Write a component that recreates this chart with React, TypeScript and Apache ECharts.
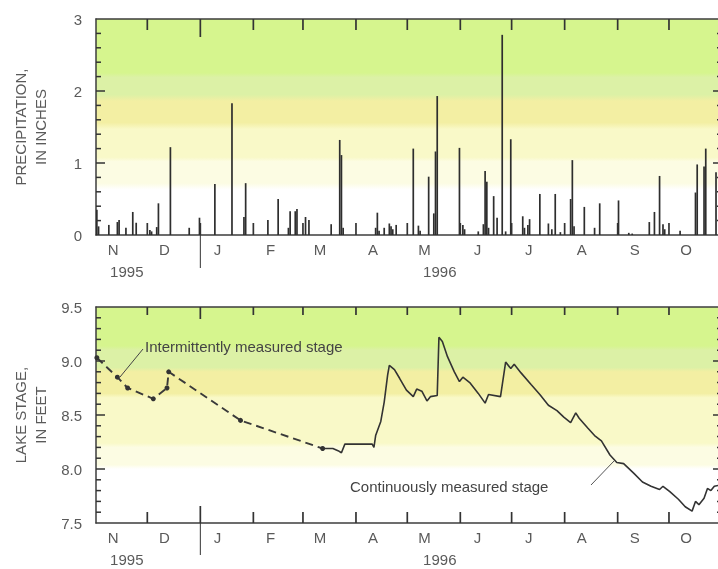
import React, { useEffect, useRef } from 'react';
import * as echarts from 'echarts';

// Day index 0 = 1 November 1995, axis runs to 1 November 1996 (366 days)
const monthStarts = [0, 30, 61, 92, 121, 152, 182, 213, 243, 274, 305, 335];
const monthLetters = ['N', 'D', 'J', 'F', 'M', 'A', 'M', 'J', 'J', 'A', 'S', 'O'];
const monthLabelOffset = 10;
const yearLabelDays = [18, 201];
const yearLabels = ['1995', '1996'];
const yearBreakDay = 61;
const axisEndDay = 366;

const precipDays = [
  0, 1, 7, 12, 13, 17, 21, 23, 31, 32, 35, 36, 43, 54, 60, 69, 79, 86, 87, 100,
  106, 112, 113, 116, 117, 122, 124, 137, 142, 143, 144, 163, 164, 165, 168, 171, 172, 173, 175, 185,
  188, 189, 194, 197, 198, 199, 212, 214, 215, 223, 226, 227, 228, 229, 232, 234, 237, 239, 242, 249,
  250, 252, 253, 259, 264, 266, 268, 271, 277, 278, 279, 285, 291, 294, 305, 311, 313, 323, 326, 329,
  331, 332, 341, 350, 351, 355, 356, 362,
];
const precipInches = [
  0.35, 0.12, 0.14, 0.18, 0.21, 0.1, 0.32, 0.17, 0.07, 0.05, 0.11, 0.44, 1.22, 0.1, 0.24, 0.71, 1.83, 0.25, 0.72, 0.21,
  0.5, 0.1, 0.33, 0.33, 0.36, 0.25, 0.21, 0.15, 1.32, 1.11, 0.1, 0.1, 0.31, 0.06, 0.1, 0.16, 0.12, 0.08, 0.14, 1.2,
  0.13, 0.06, 0.81, 0.3, 1.16, 1.93, 1.21, 0.14, 0.08, 0.05, 0.15, 0.89, 0.74, 0.1, 0.54, 0.24, 2.78, 0.05, 1.33, 0.26,
  0.1, 0.14, 0.22, 0.57, 0.16, 0.08, 0.57, 0.04, 0.5, 1.04, 0.12, 0.39, 0.1, 0.44, 0.48, 0.03, 0.02, 0.18, 0.32, 0.82,
  0.15, 0.08, 0.06, 0.59, 0.98, 0.95, 1.2, 0.87,
];

const measDays = [0, 12, 18, 33, 41, 42, 84, 132];
const measStage = [9.03, 8.85, 8.75, 8.65, 8.75, 8.9, 8.45, 8.19];

const contDays = [
  132, 138, 141, 143, 145, 161, 162, 163, 166, 168, 170, 171, 174, 177, 181, 185, 187, 190, 193, 195,
  199, 200, 202, 205, 209, 212, 214, 218, 223, 227, 229, 236, 239, 242, 244, 248, 254, 259, 264, 269,
  273, 277, 280, 282, 287, 291, 295, 300, 304, 308, 314, 319, 324, 329, 331, 335, 340, 344, 348, 350,
  352, 355, 357, 359, 361, 364,
];
const contStage = [
  8.19, 8.19, 8.17, 8.15, 8.23, 8.23, 8.2, 8.31, 8.44, 8.62, 8.87, 8.96, 8.92, 8.84, 8.73, 8.67, 8.74, 8.72, 8.63, 8.67,
  8.68, 9.22, 9.18, 9.04, 8.9, 8.81, 8.85, 8.8, 8.7, 8.61, 8.69, 8.67, 8.99, 8.93, 8.97, 8.89, 8.78, 8.69, 8.59, 8.54,
  8.48, 8.43, 8.52, 8.47, 8.38, 8.31, 8.26, 8.13, 8.06, 8.05, 7.96, 7.88, 7.84, 7.81, 7.84, 7.79, 7.72, 7.65, 7.61, 7.7,
  7.67, 7.73, 7.82, 7.8, 7.84, 7.85,
];

// y-axis scales: [min, max, major step, minor divisions]
const precipScale = [0, 3, 1, 5];
const stageScale = [7.5, 9.5, 0.5, 5];

const FONT = '"Liberation Sans", Arial, sans-serif';
const AXIS_COLOR = '#3c3c3c';
const TICK_COLOR = '#333333';
const LABEL_COLOR = '#5a5a5a';

const bandStops = (bands: [number, number, string][]) => {
  const stops: { offset: number; color: string }[] = [];
  bands.forEach(([a, b, c]) => {
    stops.push({ offset: a, color: c });
    stops.push({ offset: b, color: c });
  });
  return new echarts.graphic.LinearGradient(0, 0, 0, 1, stops);
};

const topBands: [number, number, string][] = [
  [0, 0.25, '#d6f58e'],
  [0.27, 0.35, '#dcf1a6'],
  [0.38, 0.48, '#f3efa3'],
  [0.51, 0.64, '#f9f9c8'],
  [0.66, 0.76, '#fcfce3'],
  [0.79, 1, '#ffffff'],
];
const bottomBands: [number, number, string][] = [
  [0, 0.18, '#d6f58e'],
  [0.2, 0.28, '#dcf1a6'],
  [0.3, 0.4, '#f3efa3'],
  [0.42, 0.63, '#f9f9c8'],
  [0.65, 0.73, '#fcfce3'],
  [0.75, 1, '#ffffff'],
];

function xAxisBase(gridIndex: number, position: 'top' | 'bottom') {
  return {
    type: 'value',
    gridIndex,
    position,
    min: 0,
    max: axisEndDay,
    splitLine: { show: false },
    axisLine: { show: false, onZero: false },
    axisTick: { show: false },
    axisLabel: { show: false },
  } as any;
}

// per panel: 0 bottom line + months, 1 top line, 2 year labels
function panelXAxes(gridIndex: number) {
  return [
    {
      ...xAxisBase(gridIndex, 'bottom'),
      axisLine: { show: true, onZero: false, lineStyle: { color: AXIS_COLOR, width: 1.5 } },
      axisLabel: {
        show: true,
        customValues: monthStarts.map((m) => m + monthLabelOffset),
        formatter: (v: number) => {
          const i = monthStarts.findIndex((m) => m + monthLabelOffset === Math.round(v));
          return i >= 0 ? monthLetters[i] : '';
        },
        margin: 7,
        color: LABEL_COLOR,
        fontSize: 15,
        fontFamily: FONT,
      },
    },
    {
      ...xAxisBase(gridIndex, 'top'),
      axisLine: { show: true, onZero: false, lineStyle: { color: AXIS_COLOR, width: 1.5 } },
    },
    {
      ...xAxisBase(gridIndex, 'bottom'),
      axisLabel: {
        show: true,
        customValues: yearLabelDays,
        formatter: (v: number) => {
          const i = yearLabelDays.indexOf(Math.round(v));
          return i >= 0 ? yearLabels[i] : '';
        },
        margin: 29,
        color: LABEL_COLOR,
        fontSize: 15,
        fontFamily: FONT,
      },
    },
  ];
}

function panelYAxis(gridIndex: number, scale: number[], name: string, decimals: number) {
  return {
    type: 'value',
    gridIndex,
    min: scale[0],
    max: scale[1],
    interval: scale[2],
    position: 'left',
    splitLine: { show: false },
    axisLine: { show: true, onZero: false, lineStyle: { color: AXIS_COLOR, width: 1.5 } },
    axisTick: { show: false },
    name,
    nameLocation: 'middle',
    nameRotate: 90,
    nameGap: 46,
    nameTextStyle: { color: LABEL_COLOR, fontSize: 15, fontFamily: FONT, lineHeight: 20 },
    axisLabel: {
      show: true,
      margin: 14,
      color: LABEL_COLOR,
      fontSize: 15,
      fontFamily: FONT,
      formatter: (v: number) => v.toFixed(decimals),
    },
  } as any;
}

const tickLine = (x1: number, y1: number, x2: number, y2: number, w: number) => ({
  type: 'line',
  shape: { x1, y1, x2, y2 },
  style: { stroke: TICK_COLOR, lineWidth: w },
});

// month ticks: lengths [top inside, bottom inside, bottom outside] for regular and year-break ticks
function monthTickSeries(xAxisIndex: number, yAxisIndex: number, yMin: number, normal: number[], brk: number[]) {
  return {
    type: 'custom',
    xAxisIndex,
    yAxisIndex,
    silent: true,
    clip: false,
    z: 6,
    data: monthStarts.slice(1).map((d) => [d, yMin]),
    renderItem: (params: any, api: any) => {
      const day = api.value(0);
      const cs = params.coordSys;
      const x = api.coord([day, yMin])[0];
      const L = day === yearBreakDay ? brk : normal;
      const top = cs.y;
      const bot = cs.y + cs.height;
      const children: any[] = [tickLine(x, top, x, top + L[0], 1.7), tickLine(x, bot, x, bot - L[1], 1.7)];
      if (L[2] > 0) children.push(tickLine(x, bot, x, bot + L[2], 1));
      return { type: 'group', children };
    },
  };
}

function valueTickSeries(xAxisIndex: number, yAxisIndex: number, scale: number[]) {
  const [min, max, step, div] = scale;
  const minor = step / div;
  const n = Math.round((max - min) / minor);
  const values: number[][] = [];
  for (let i = 1; i < n; i++) values.push([0, +(min + i * minor).toFixed(4), i % div === 0 ? 1 : 0]);
  return {
    type: 'custom',
    xAxisIndex,
    yAxisIndex,
    silent: true,
    clip: false,
    z: 6,
    data: values,
    renderItem: (params: any, api: any) => {
      const v = api.value(1);
      const major = api.value(2) === 1;
      const cs = params.coordSys;
      const y = api.coord([0, v])[1];
      const len = major ? 9 : 5;
      const left = cs.x;
      const right = cs.x + cs.width;
      return {
        type: 'group',
        children: [tickLine(left, y, left + len, y, 1.5), tickLine(right, y, right - len, y, 1.5)],
      };
    },
  };
}

export default function App() {
  const ref = useRef<HTMLDivElement>(null);

  useEffect(() => {
    if (!ref.current) return;
    const chart = echarts.init(ref.current, undefined, { renderer: 'svg' });

    const grids = [
      { left: 96, top: 19, width: 626, height: 216, show: true, borderWidth: 0, outerBoundsMode: 'none', backgroundColor: bandStops(topBands) },
      { left: 96, top: 307, width: 626, height: 216, show: true, borderWidth: 0, outerBoundsMode: 'none', backgroundColor: bandStops(bottomBands) },
    ];

    chart.setOption({
      animation: false,
      grid: grids,
      xAxis: [...panelXAxes(0), ...panelXAxes(1)],
      yAxis: [
        panelYAxis(0, precipScale, 'PRECIPITATION,\nIN INCHES', 0),
        panelYAxis(1, stageScale, 'LAKE STAGE,\nIN FEET', 1),
      ],
      series: [
        {
          type: 'bar',
          xAxisIndex: 0,
          yAxisIndex: 0,
          barWidth: 1.7,
          itemStyle: { color: '#2e2e2e' },
          data: precipDays.map((d, i) => [d + 0.5, precipInches[i]]),
        },
        {
          type: 'line',
          xAxisIndex: 3,
          yAxisIndex: 1,
          symbol: 'circle',
          symbolSize: 5,
          itemStyle: { color: '#333333' },
          lineStyle: { color: '#3a3a3a', width: 1.9, type: [8, 5] },
          data: measDays.map((d, i) => [d + 0.5, measStage[i]]),
        },
        {
          type: 'line',
          xAxisIndex: 3,
          yAxisIndex: 1,
          symbol: 'none',
          lineStyle: { color: '#333333', width: 1.6 },
          data: contDays.map((d, i) => [d + 0.5, contStage[i]]),
        },
        monthTickSeries(0, 0, precipScale[0], [11, 12, 0], [18, 12, 33]),
        valueTickSeries(0, 0, precipScale),
        monthTickSeries(3, 1, stageScale[0], [8, 11, 0], [12, 17, 32]),
        valueTickSeries(3, 1, stageScale),
      ],
      graphic: [
        {
          type: 'text',
          x: 145,
          y: 346,
          style: { text: 'Intermittently measured stage', fontSize: 15, fontFamily: FONT, fill: '#444', verticalAlign: 'middle', align: 'left' },
        },
        { type: 'line', shape: { x1: 143, y1: 349, x2: 120, y2: 377 }, style: { stroke: '#444', lineWidth: 1 } },
        {
          type: 'text',
          x: 350,
          y: 486,
          style: { text: 'Continuously measured stage', fontSize: 15, fontFamily: FONT, fill: '#444', verticalAlign: 'middle', align: 'left' },
        },
        { type: 'line', shape: { x1: 591, y1: 485, x2: 614, y2: 461 }, style: { stroke: '#555', lineWidth: 1 } },
      ],
    });

    return () => chart.dispose();
  }, []);

  return <div ref={ref} style={{ position: 'fixed', left: 0, top: 0, width: 718, height: 569 }} />;
}
